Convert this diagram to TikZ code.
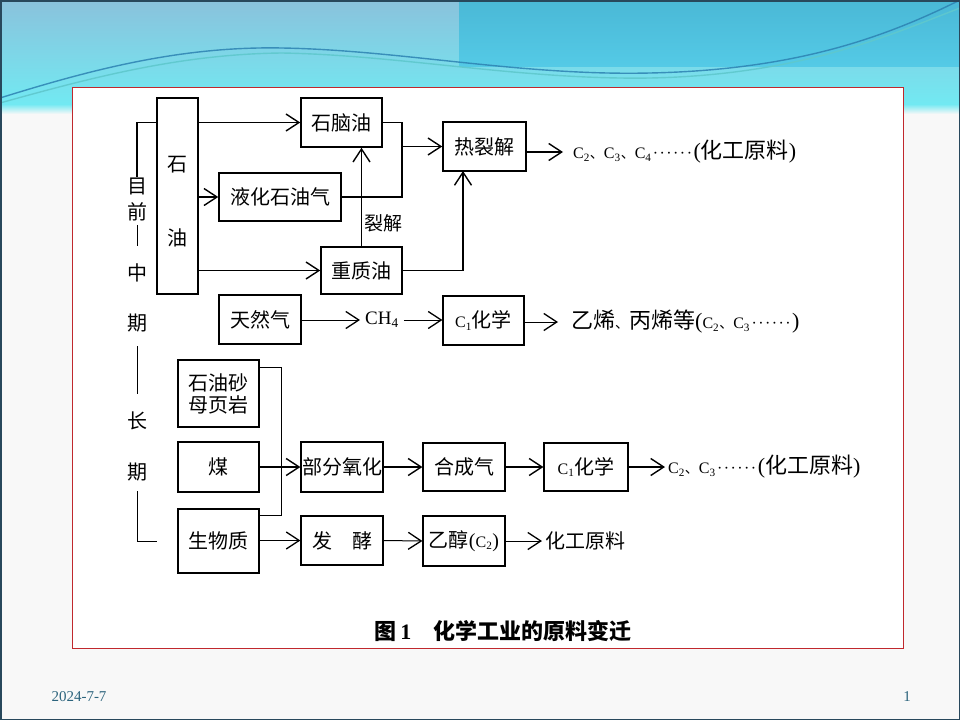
\documentclass[tikz,border=0pt]{standalone}
\usepackage{fontspec}
\setmainfont{Liberation Serif}
\newfontfamily\cjk{Noto Sans CJK SC}
\usetikzlibrary{arrows.meta}
\definecolor{bandtop}{RGB}{138,194,220}
\definecolor{bandbot}{RGB}{114,233,242}
\definecolor{rtop}{RGB}{74,184,214}
\definecolor{rbot}{RGB}{84,202,230}
\definecolor{slidebg}{RGB}{248,248,248}
\definecolor{framered}{RGB}{192,40,45}
\definecolor{footc}{RGB}{44,100,125}
\definecolor{waveA}{RGB}{45,130,178}
\definecolor{waveB}{RGB}{95,200,205}
\definecolor{edgec}{RGB}{40,72,92}
\newcommand\lt[1]{{\rmfamily #1}}
\newcommand\Cn[1]{{\rmfamily\fontsize{16}{18}\selectfont C\textsubscript{#1}}}
\newcommand\dun{{\cjk\fontsize{14}{16}\selectfont 、}}
\newcommand\lp{{\rmfamily (}}
\newcommand\rp{{\rmfamily )}}
\newcommand\sixdots{\hbox to 42pt{\rmfamily\fontsize{16}{18}\selectfont\hfil·\hfil·\hfil·\hfil·\hfil·\hfil·\hfil}}
\tikzset{
  bx/.style={draw, line width=1.5pt, inner sep=0pt, align=center,
    font=\cjk\fontsize{20}{22}\selectfont},
  bxt/.style={bx, line width=1.2pt},
  arr/.style={line width=1.5pt, -{Straight Barb[length=13pt,width=17pt,line width=1.4pt]}},
  arrt/.style={line width=1pt, -{Straight Barb[length=13pt,width=17pt,line width=1.3pt]}},
  ln/.style={line width=1.5pt},
  lnt/.style={line width=1pt},
  side/.style={inner sep=0pt, font=\cjk\fontsize{20}{22}\selectfont},
  outtxt/.style={anchor=west, inner sep=0pt, font=\cjk\fontsize{22}{24}\selectfont},
}
\begin{document}
\begin{tikzpicture}[x=1pt,y=-1pt]
\useasboundingbox (0,0) rectangle (960,720);
% slide background
\fill[slidebg] (0,0) rectangle (960,720);
\shade[top color=bandtop,bottom color=bandbot] (0,0) rectangle (960,104);
\shade[top color=bandbot,bottom color=slidebg] (0,104) rectangle (960,114);
\shade[top color=rtop,bottom color=rbot] (459,0) rectangle (960,66);
\draw[waveA, line width=1.4pt, opacity=.85] (0,98) .. controls (90,70) and (180,46) .. (282,48)
   .. controls (400,50) and (520,76) .. (650,73) .. controls (790,70) and (880,40) .. (960,0);
\draw[waveB, line width=1.4pt, opacity=.9] (0,103) .. controls (90,78) and (180,54) .. (282,53)
   .. controls (400,55) and (520,80) .. (650,78) .. controls (800,75) and (890,35) .. (960,8);
\draw[edgec, line width=1.5pt] (0.75,0.75) rectangle (959.25,719.25);
% frame
\draw[framered, fill=white, line width=1pt] (72,87) rectangle (903,648);

% ---- top: petroleum ----
\node[bx, minimum width=41pt, minimum height=196pt] (shiyou) at (177.5,196) {};
\node[side] (shi) at (177,165) {石};
\node[side] (you) at (177,238) {油};
\node[bx, minimum width=81pt, minimum height=49pt] (naphtha) at (341.5,122.5) {石脑油};
\node[bx, minimum width=122pt, minimum height=48pt] (lpg) at (280,197) {液化石油气};
\node[bx, minimum width=81pt, minimum height=47pt] (heavy) at (361.5,270.5) {重质油};
\node[bx, minimum width=83pt, minimum height=49pt] (crack) at (484.5,146.5) {热裂解};
\node[outtxt, inner xsep=10pt] (out1) at (563,152) {\Cn{2}\dun\Cn{3}\dun\Cn{4}\sixdots\lp 化工原料\rp};
\node[side, font=\cjk\fontsize{19}{21}\selectfont] (liejie) at (383,223) {裂解};

\draw[arr] (shiyou.east |- naphtha.west) -- (naphtha.west);
\draw[arr] (shiyou.east |- lpg.west) -- (lpg.west);
\draw[arr] (shiyou.east |- heavy.west) -- (heavy.west);
\coordinate (jn) at (402,146.5);
\draw[ln] (naphtha.east) -| (jn) |- (lpg.east);
\draw[arr] (jn) -- (crack.west);
\draw[arr] (heavy.north) -- (heavy.north |- naphtha.south);
\coordinate (cb) at (463,171);
\draw[arr] (heavy.east) -| (cb);
\draw[arr] (crack.east |- out1.west) -- (out1.west);

% ---- natural gas ----
\node[bxt, minimum width=82pt, minimum height=49pt] (gas) at (260,319.5) {天然气};
\node[anchor=west, inner xsep=5pt, inner ysep=0pt, font=\rmfamily\fontsize{19}{21}\selectfont] (ch4) at (360,320) {CH\textsubscript{4}};
\node[bxt, minimum width=81pt, minimum height=49pt] (c1a) at (483.5,320.5) {\Cn{1}化学};
\node[outtxt, inner xsep=13pt] (out2) at (558,322) {乙烯\dun 丙烯等\lp\Cn{2}\dun\Cn{3}\sixdots\rp};
\draw[arrt] (gas.east |- ch4.west) -- (ch4.west);
\draw[arrt] (ch4.east) -- (ch4.east -| c1a.west);
\draw[arrt] (c1a.east |- out2.west) -- (out2.west);

% ---- time line ----
\node[side] (mu) at (137,186) {目};
\node[side] (qian) at (137,212) {前};
\node[side] (zhong) at (137,273) {中};
\node[side] (qi1) at (137,323) {期};
\node[side] (chang) at (137,421) {长};
\node[side] (qi2) at (137,472) {期};
\draw[ln] (shiyou.west |- naphtha.west) -| (mu.north);
\draw[lnt, shorten <=3.5pt, shorten >=18pt] (qian.south) -- (zhong.north);
\draw[lnt, shorten <=14pt, shorten >=18pt] (qi1.south) -- (chang.north);

% ---- long term ----
\node[bxt, minimum width=81pt, minimum height=67pt] (sand) at (218.5,393.5) {石油砂\\母页岩};
\node[bxt, minimum width=81pt, minimum height=50pt] (coal) at (218.5,467) {煤};
\node[bxt, minimum width=81pt, minimum height=64pt] (bio) at (218.5,541) {生物质};
\node[bxt, minimum width=82pt, minimum height=50pt] (pox) at (342,467) {部分氧化};
\node[bxt, minimum width=82pt, minimum height=48pt] (syn) at (464,467) {合成气};
\node[bxt, minimum width=84pt, minimum height=48pt] (c1b) at (586,467) {\Cn{1}化学};
\node[outtxt, inner xsep=3pt] (out3) at (665,467) {\Cn{2}\dun\Cn{3}\sixdots\lp 化工原料\rp};
\node[bxt, minimum width=82pt, minimum height=49pt] (ferm) at (342,540.5) {发\hspace{20pt}酵};
\node[bxt, minimum width=82pt, minimum height=50pt] (eth) at (464,541) {乙醇\lp\Cn{2}\rp};
\node[outtxt, inner xsep=3pt, font=\cjk\fontsize{20}{22}\selectfont] (out4) at (542,541) {化工原料};

\draw[lnt, shorten <=10pt] (qi2.south) |- ([xshift=-20pt]bio.west);
\draw[lnt] ([yshift=-8pt]sand.north east) -- ++(22,0) |- ([yshift=-7pt]bio.north east);
\draw[arr] (coal.east) -- (pox.west);
\draw[arr] (pox.east) -- (syn.west);
\draw[arr] (syn.east) -- (c1b.west);
\draw[arr] (c1b.east |- out3.west) -- (out3.west);
\draw[arrt] (bio.east |- ferm.west) -- (ferm.west);
\draw[arrt] (ferm.east) -- (eth.west);
\draw[arrt] (eth.east |- out4.west) -- (out4.west);

% caption
\node[font=\cjk\bfseries\fontsize{22}{24}\selectfont] (cap) at (503,631) {图\,\lt{1}\quad 化学工业的原料变迁};

% footer
\node[font=\rmfamily\fontsize{15}{17}\selectfont, text=footc] (date) at (79,697) {2024-7-7};
\node[font=\rmfamily\fontsize{15}{17}\selectfont, text=footc] (page) at (907,697) {1};
\end{tikzpicture}
\end{document}
